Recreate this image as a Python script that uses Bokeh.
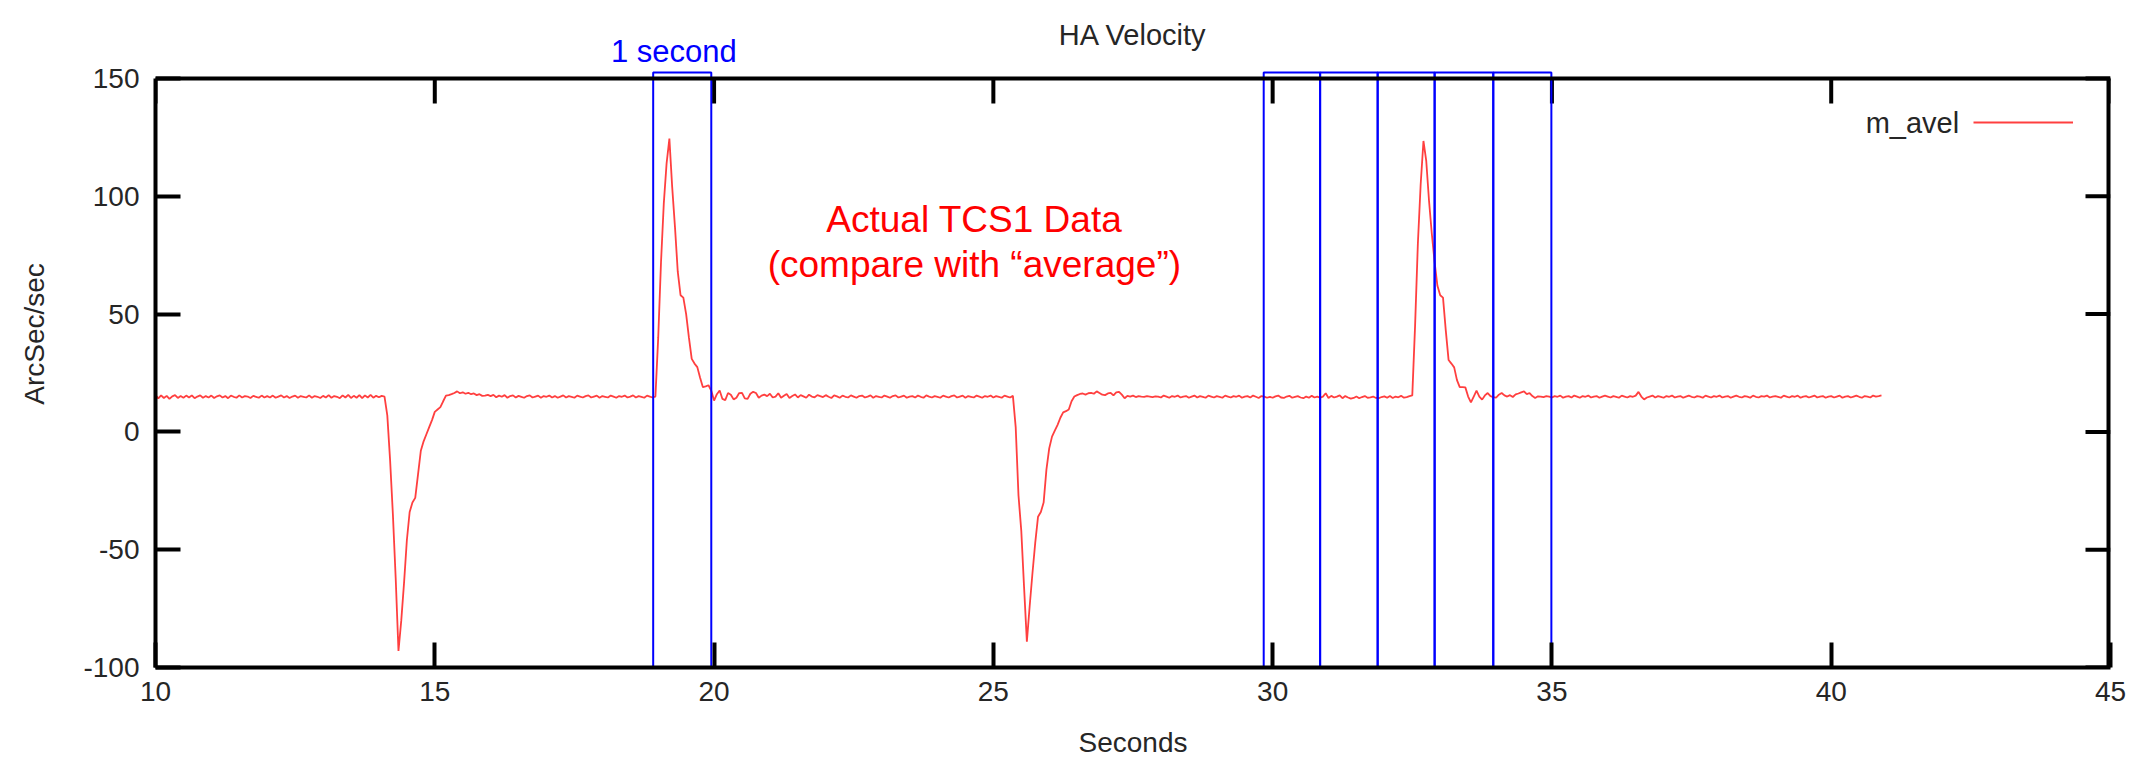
import numpy as np
from bokeh.plotting import figure
from bokeh.models import (Range1d, FixedTicker, Label, Legend, LegendItem, Span)
from bokeh.embed import file_html
from bokeh.resources import INLINE

# ---------------- data ----------------
t_start = 10.0
t_step = 0.05
m_avel = [
    # 10.00 - 10.95
    15.6, 14.2, 15.5, 14.4, 15.3, 14.0, 15.1, 15.6, 14.4, 15.2, 14.5, 15.4, 14.6, 15.5, 14.3, 15.0, 15.5, 14.5, 15.2, 14.6,
    # 11
    15.4, 14.4, 15.1, 15.5, 14.6, 15.2, 14.3, 15.4, 14.9, 14.5, 15.5, 14.6, 15.2, 15.0, 14.4, 15.3, 14.9, 14.5, 15.4, 14.6,
    # 12
    15.2, 14.6, 15.4, 14.5, 15.0, 15.5, 14.6, 15.2, 14.4, 15.0, 15.4, 14.5, 15.2, 14.9, 14.6, 15.5, 14.5, 15.2, 14.9, 14.4,
    # 13
    15.3, 14.6, 15.6, 14.5, 15.2, 14.9, 14.3, 15.5, 14.6, 15.7, 14.4, 15.3, 14.5, 15.6, 14.3, 15.5, 14.6, 15.7, 14.5, 15.3,
    # 14
    14.7, 15.3, 15.0, 7.0, -12.0, -35.0, -62.0, -93.0, -80.0, -64.0, -46.0, -34.0, -30.0, -28.0, -18.0, -8.0, -4.0, -1.0, 2.0, 5.0,
    # 15
    8.5, 9.5, 10.5, 13.0, 15.4, 15.6, 16.0, 16.5, 17.2, 16.4, 16.8, 16.2, 16.6, 16.0, 16.3, 15.6, 16.0, 15.3, 15.4, 15.7,
    # 16
    15.2, 15.7, 14.7, 15.4, 14.9, 15.6, 14.5, 15.2, 15.5, 14.6, 15.3, 14.9, 14.5, 15.2, 15.5, 14.6, 15.0, 15.4, 14.5, 15.2,
    # 17
    14.9, 15.4, 14.6, 15.2, 14.5, 15.0, 15.5, 14.6, 15.2, 14.9, 14.5, 15.4, 15.0, 14.6, 15.2, 15.5, 14.6, 15.0, 15.4, 14.5,
    # 18
    15.2, 14.9, 14.6, 15.4, 15.0, 14.5, 15.2, 14.9, 15.4, 14.6, 15.0, 15.5, 14.6, 15.2, 14.9, 14.5, 15.4, 15.0, 14.6, 15.0,
    # 19
    40.0, 72.0, 97.0, 114.0, 124.5, 104.0, 87.0, 68.0, 58.0, 57.0, 50.0, 40.0, 31.0, 29.0, 27.5, 23.0, 19.0, 19.3, 19.8, 17.5,
    # 20
    13.3, 16.0, 17.6, 14.0, 13.5, 16.5, 15.8, 13.8, 14.5, 16.5, 16.6, 14.2, 14.0, 16.2, 17.0, 16.5, 14.5, 15.4, 15.8, 15.2,
    # 21
    16.2, 14.6, 15.0, 16.4, 14.5, 15.3, 16.1, 14.4, 15.2, 15.9, 14.6, 15.6, 15.1, 14.5, 15.8, 15.0, 14.7, 15.6, 15.2, 14.8,
    # 22
    15.6, 14.9, 14.4, 15.5, 15.1, 14.5, 15.4, 14.9, 14.6, 15.5, 15.0, 14.5, 15.2, 15.4, 14.6, 15.0, 15.5, 14.5, 15.2, 14.9,
    # 23
    14.6, 15.4, 15.0, 14.5, 15.2, 15.5, 14.6, 15.0, 15.4, 14.5, 15.0, 15.2, 14.6, 15.4, 14.9, 14.5, 15.5, 15.0, 14.6, 15.2,
    # 24
    14.9, 14.5, 15.4, 15.0, 14.6, 15.2, 15.5, 14.6, 15.0, 15.4, 14.5, 15.2, 14.9, 14.6, 15.4, 15.0, 14.5, 15.2, 14.9, 15.4,
    # 25
    14.6, 15.2, 14.9, 14.5, 15.4, 15.0, 14.6, 15.3, 2.0, -27.0, -42.0, -66.0, -89.0, -74.0, -60.0, -47.0, -36.0, -34.0, -30.0, -16.0,
    # 26
    -7.0, -2.0, 0.5, 3.0, 6.0, 8.3, 8.8, 9.5, 13.0, 15.0, 15.6, 16.1, 16.3, 15.8, 16.4, 16.6, 16.2, 17.2, 16.5, 15.8,
    # 27
    15.6, 16.3, 16.6, 15.5, 16.8, 17.0, 15.8, 14.3, 15.3, 15.0, 15.4, 14.8, 15.2, 15.0, 14.9, 15.2, 15.0, 14.8, 15.1, 15.0,
    # 28
    14.6, 15.4, 15.0, 14.5, 15.2, 14.9, 15.4, 14.6, 15.0, 15.2, 14.5, 15.0, 15.4, 14.6, 15.2, 14.9, 14.5, 15.4, 15.0, 14.6,
    # 29
    15.2, 14.9, 14.5, 15.4, 15.0, 14.6, 15.2, 14.9, 15.4, 14.5, 15.0, 15.2, 14.6, 15.4, 14.9, 14.4, 15.2, 15.0, 14.5, 14.9,
    # 30
    14.5, 15.1, 15.4, 14.6, 14.4, 15.0, 15.3, 14.5, 14.9, 15.2, 14.6, 14.3, 15.0, 14.5, 15.3, 14.6, 15.0, 14.5, 15.0, 16.4,
    # 31
    14.4, 15.3, 14.6, 15.0, 15.5, 14.3, 15.2, 14.6, 14.1, 14.4, 15.0, 14.3, 14.8, 15.2, 14.5, 14.7, 15.0, 14.4, 14.3, 14.8,
    # 32
    15.1, 14.5, 15.2, 14.4, 15.0, 14.7, 15.3, 14.5, 14.8, 15.2, 15.5, 45.0, 80.0, 105.0, 123.5, 115.0, 98.0, 84.0, 72.0, 62.0,
    # 33
    58.0, 57.0, 43.0, 30.5, 29.0, 27.4, 22.0, 19.0, 19.0, 18.9, 15.0, 12.5, 15.0, 17.5, 15.0, 13.7, 15.5, 16.5, 15.2, 14.8,
    # 34
    14.5, 15.8, 16.5, 15.5, 15.0, 15.6, 14.8, 15.9, 16.3, 16.8, 17.2, 16.0, 16.5, 15.2, 14.4, 15.1, 15.0, 14.8, 15.2, 15.0,
    # 35
    14.6, 15.2, 14.9, 15.4, 14.5, 15.0, 15.2, 14.6, 15.4, 15.0, 14.5, 15.2, 14.9, 15.4, 14.6, 15.0, 15.2, 14.5, 15.0, 15.4,
    # 36
    15.0, 14.6, 15.2, 14.9, 14.5, 15.4, 15.0, 14.6, 15.2, 14.9, 15.4, 17.0, 15.0, 13.8, 14.6, 15.0, 15.4, 14.6, 15.2, 14.9,
    # 37
    14.5, 15.2, 14.9, 15.4, 14.6, 15.0, 15.2, 14.5, 15.0, 15.4, 14.9, 14.6, 15.2, 15.0, 14.5, 15.4, 15.0, 14.6, 15.2, 14.9,
    # 38
    15.4, 14.6, 15.0, 15.2, 14.5, 15.0, 15.4, 14.9, 14.6, 15.2, 15.0, 14.5, 15.4, 14.9, 14.6, 15.2, 15.0, 15.4, 14.6, 15.0,
    # 39
    15.2, 14.9, 14.5, 15.4, 15.0, 14.6, 15.2, 14.9, 15.4, 14.5, 15.0, 15.2, 14.6, 15.0, 15.4, 14.6, 15.0, 15.2, 14.5, 15.0,
    # 40.00 - 40.90
    15.2, 14.6, 15.0, 15.4, 14.5, 15.0, 15.2, 14.6, 15.0, 15.4, 14.9, 14.5, 15.2, 15.0, 14.6, 15.4, 15.0, 15.2, 15.5,
]
seconds = np.round(t_start + t_step * np.arange(len(m_avel)), 2)

x_ticks = [10, 15, 20, 25, 30, 35, 40, 45]
y_ticks = [-100, -50, 0, 50, 100, 150]
y_tick_labels = ["-100", "-50", "0", "50", "100", "150"]

one_second_box = [18.91, 19.95]
second_grid_lines = [29.84, 30.85, 31.88, 32.90, 33.95, 34.99]
box_bottom_top = [-102.0, 152.5]

# ---------------- geometry (pixels) ----------------
W, H = 2139, 762
LEFT, RIGHT, BOTTOM = 155, 29, 95
FRAME_W = W - LEFT - RIGHT            # 1955
FRAME_H = H - BOTTOM                  # 667 (frame reaches the top of the canvas)
BOX_TOP_PX = 78                       # pixel row of the y=150 edge
y_per_px = (y_ticks[-1] - y_ticks[0]) / (FRAME_H - BOX_TOP_PX)
x_per_px = (x_ticks[-1] - x_ticks[0]) / FRAME_W
y_top = y_ticks[0] + FRAME_H * y_per_px
TICK_PX = 25

FONT = "Liberation Sans"
TXT = "#262626"

p = figure(width=W, height=H, output_backend="svg", toolbar_location=None,
           x_range=Range1d(x_ticks[0], x_ticks[-1]), y_range=Range1d(y_ticks[0], y_top),
           min_border_left=LEFT, min_border_right=RIGHT, min_border_top=0, min_border_bottom=BOTTOM,
           x_axis_label="Seconds", y_axis_label="ArcSec/sec")
p.grid.visible = False
p.background_fill_color = "white"
p.border_fill_color = "white"
p.outline_line_color = None

for ax in (p.xaxis[0], p.yaxis[0]):
    ax.major_tick_in = TICK_PX
    ax.major_tick_out = 0
    ax.minor_tick_line_color = None
    ax.major_tick_line_width = 4
    ax.major_tick_line_color = "black"
    ax.axis_line_width = 4
    ax.axis_line_color = "black"
    ax.major_label_text_font = FONT
    ax.major_label_text_font_size = "28px"
    ax.major_label_text_color = TXT
    ax.axis_label_text_font = FONT
    ax.axis_label_text_font_size = "28px"
    ax.axis_label_text_font_style = "normal"
    ax.axis_label_text_color = TXT
p.xaxis.ticker = FixedTicker(ticks=x_ticks)
p.yaxis.ticker = FixedTicker(ticks=y_ticks)
p.yaxis.bounds = (y_ticks[0], y_ticks[-1])
p.yaxis.major_label_overrides = dict(zip(y_ticks, y_tick_labels))
p.xaxis.major_label_standoff = 14
p.yaxis.major_label_standoff = 16
p.xaxis.axis_label_standoff = 23
p.yaxis.axis_label_standoff = 30

# closing edges of the gnuplot box (top at y=150, right at x=45) with inward ticks
p.add_layout(Span(location=y_ticks[-1], dimension="width", line_color="black", line_width=4))
p.segment(x0=[x_ticks[-1]], y0=[y_ticks[0]], x1=[x_ticks[-1]], y1=[y_ticks[-1]],
          line_color="black", line_width=8)
p.segment(x0=x_ticks, y0=[y_ticks[-1]] * len(x_ticks), x1=x_ticks,
          y1=[y_ticks[-1] - TICK_PX * y_per_px] * len(x_ticks), line_color="black", line_width=4)
p.segment(x0=[x_ticks[-1]] * len(y_ticks), y0=y_ticks, x1=[x_ticks[-1] - TICK_PX * x_per_px] * len(y_ticks),
          y1=y_ticks, line_color="black", line_width=4)

# data line
line = p.line(seconds, m_avel, line_color="#ff2a2a", line_width=1.8, line_alpha=0.9)

# blue 1-second boxes
p.quad(left=[one_second_box[0]], right=[one_second_box[1]],
       bottom=[box_bottom_top[0]], top=[box_bottom_top[1]],
       fill_color=None, line_color="#0000ff", line_width=2)
p.quad(left=second_grid_lines[:-1], right=second_grid_lines[1:],
       bottom=[box_bottom_top[0]] * (len(second_grid_lines) - 1),
       top=[box_bottom_top[1]] * (len(second_grid_lines) - 1),
       fill_color=None, line_color="#0000ff", line_width=2)

# title and annotations
p.add_layout(Label(x=(x_ticks[0] + x_ticks[-1]) / 2, y=y_ticks[-1] + 44 * y_per_px, text="HA Velocity",
                   text_align="center", text_baseline="middle", text_font=FONT,
                   text_font_size="29px", text_color=TXT))
p.add_layout(Label(x=19.28, y=y_ticks[-1] + 27 * y_per_px, text="1 second",
                   text_align="center", text_baseline="middle", text_font=FONT,
                   text_font_size="31px", text_color="#0000ff"))
p.add_layout(Label(x=24.66, y=90.3, text="Actual TCS1 Data", text_align="center",
                   text_baseline="middle", text_font=FONT, text_font_size="37px", text_color="#ff0000"))
p.add_layout(Label(x=24.66, y=71.0, text="(compare with \u201caverage\u201d)", text_align="center",
                   text_baseline="middle", text_font=FONT, text_font_size="37px", text_color="#ff0000"))

# legend: text left of sample line (gnuplot style)
p.add_layout(Label(x=42.29, y=130.9, text="m_avel", text_align="right", text_baseline="middle",
                   text_font=FONT, text_font_size="29px", text_color=TXT))
legend = Legend(items=[LegendItem(label="", renderers=[line])], location=(1818, 535),
                glyph_width=100, glyph_height=20, label_height=20, label_width=0, label_standoff=0,
                padding=0, margin=0, border_line_color=None, background_fill_alpha=0)
p.add_layout(legend, "center")

open("out.html", "w").write(file_html(p, INLINE))
